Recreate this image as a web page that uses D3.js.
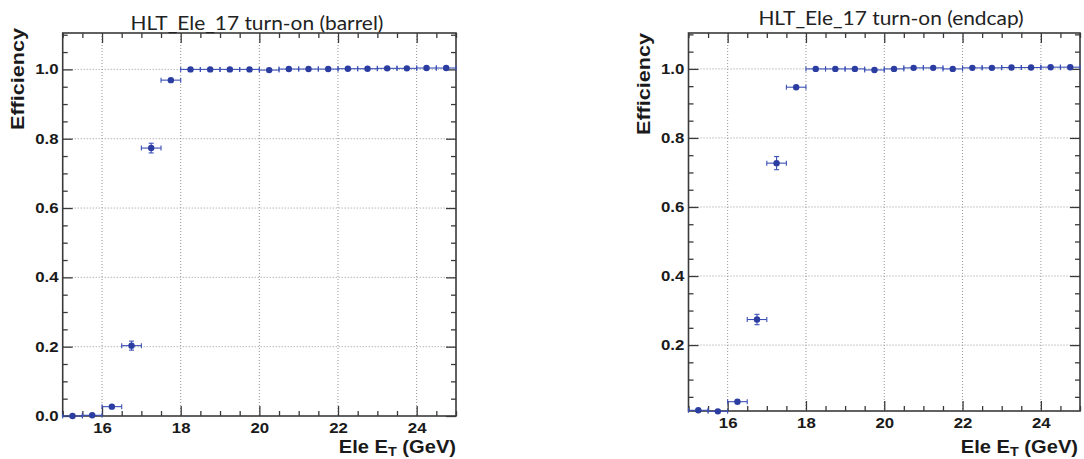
<!DOCTYPE html>
<html><head><meta charset="utf-8">
<script src="https://cdn.jsdelivr.net/npm/d3@7"></script>
<style>
html,body{margin:0;padding:0;background:#fff;}
svg{display:block;}
</style></head><body>
<svg id="chart" width="1084" height="459"></svg>
<script>
// Trigger efficiency vs electron transverse energy, 0.5 GeV bins
const binCenters = [15.25, 15.75, 16.25, 16.75, 17.25, 17.75, 18.25, 18.75, 19.25, 19.75,
                    20.25, 20.75, 21.25, 21.75, 22.25, 22.75, 23.25, 23.75, 24.25, 24.75];
const binHalfWidth = 0.25;

const barrelEff = [0.000, 0.002, 0.027, 0.203, 0.773, 0.969, 1.000, 1.000, 1.000, 1.000,
                   0.998, 1.001, 1.001, 1.001, 1.002, 1.002, 1.003, 1.003, 1.004, 1.004];
const barrelErr = [0.001, 0.002, 0.004, 0.013, 0.014, 0.005, 0.001, 0.001, 0.001, 0.001,
                   0.001, 0.001, 0.001, 0.001, 0.001, 0.001, 0.001, 0.001, 0.001, 0.001];

const endcapEff = [0.011, 0.008, 0.036, 0.274, 0.727, 0.947, 1.000, 1.000, 1.000, 0.997,
                   1.000, 1.003, 1.003, 1.000, 1.003, 1.003, 1.004, 1.004, 1.005, 1.005];
const endcapErr = [0.002, 0.002, 0.006, 0.015, 0.019, 0.006, 0.002, 0.002, 0.002, 0.002,
                   0.002, 0.002, 0.002, 0.002, 0.002, 0.002, 0.002, 0.002, 0.002, 0.002];

const xTickValues = [16, 18, 20, 22, 24];
const yTickValues = [0.0, 0.2, 0.4, 0.6, 0.8, 1.0];
const panelTitles = ["HLT_Ele_17 turn-on (barrel)", "HLT_Ele_17 turn-on (endcap)"];
const xTitle = ["Ele E", "T", " (GeV)"];
const yTitle = "Efficiency";

const svg = d3.select("#chart");
svg.append("rect").attr("width", 1084).attr("height", 459).attr("fill", "#fff");

const panels = [
  { title: panelTitles[0], eff: barrelEff, err: barrelErr,
    left: 62.7, right: 456, top: 33, bottom: 416, yDomain: [0, 1.105],
    titleX: 257, titleY: 29.5, yTitleX: 24, yTitleY: 28, xTitleX: 456, xTitleY: 452.5 },
  { title: panelTitles[1], eff: endcapEff, err: endcapErr,
    left: 688.5, right: 1080, top: 33, bottom: 411, yDomain: [0.009, 1.104],
    titleX: 891, titleY: 24.5, yTitleX: 650, yTitleY: 33, xTitleX: 1078, xTitleY: 452.5 }
];

const frameColor = "#3a3a3a";
const markColor = "#2c3da2";
const barColor = "#3b50b6";
const labelFont = "'Liberation Sans', Arial, Helvetica, sans-serif";
const stretch = 1.2;

function minorValues(lo, hi, step, majors) {
  const out = [];
  const n = Math.round((hi - lo) / step);
  for (let i = 0; i <= n; i++) {
    const v = +(lo + i * step).toFixed(4);
    if (!majors.some(m => Math.abs(m - v) < 1e-6)) out.push(v);
  }
  return out;
}

panels.forEach(p => {
  const x = d3.scaleLinear().domain([15, 25]).range([p.left, p.right]);
  const y = d3.scaleLinear().domain(p.yDomain).range([p.bottom, p.top]);
  const g = svg.append("g");

  const yMajors = yTickValues.filter(v => v >= p.yDomain[0] - 1e-9 && v <= p.yDomain[1]);
  const xMinors = minorValues(15, 25, 0.5, xTickValues);
  const yMinors = minorValues(0, 1.1, 0.05, yTickValues).filter(v => v > p.yDomain[0] && v < p.yDomain[1]);

  // dotted grid at the major ticks
  const grid = g.append("g").attr("stroke", "#8a8a8a").attr("stroke-width", 0.9)
    .attr("stroke-dasharray", "1,2");
  grid.selectAll("line.gx").data(xTickValues).join("line")
    .attr("x1", d => x(d)).attr("x2", d => x(d)).attr("y1", p.top).attr("y2", p.bottom);
  grid.selectAll("line.gy").data(yMajors.filter(v => v > p.yDomain[0] + 1e-6)).join("line")
    .attr("x1", p.left).attr("x2", p.right).attr("y1", d => y(d)).attr("y2", d => y(d));

  // axes with inward ticks on all four sides
  function styleAxis(sel) {
    sel.select(".domain").remove();
    sel.selectAll(".tick line").attr("stroke", frameColor).attr("stroke-width", 1.3);
  }
  const bottomMajor = g.append("g").attr("transform", `translate(0,${p.bottom})`)
    .call(d3.axisBottom(x).tickValues(xTickValues).tickSize(-10).tickPadding(7).tickFormat(d3.format("d")));
  styleAxis(bottomMajor);
  bottomMajor.selectAll("text").attr("font-family", labelFont).attr("font-weight", "bold")
    .attr("font-size", 14).attr("fill", "#1a1a1a").attr("transform", `scale(${stretch},1)`);
  styleAxis(g.append("g").attr("transform", `translate(0,${p.bottom})`)
    .call(d3.axisBottom(x).tickValues(xMinors).tickSize(-5).tickFormat("")));
  styleAxis(g.append("g").attr("transform", `translate(0,${p.top})`)
    .call(d3.axisTop(x).tickValues(xTickValues).tickSize(-10).tickFormat("")));
  styleAxis(g.append("g").attr("transform", `translate(0,${p.top})`)
    .call(d3.axisTop(x).tickValues(xMinors).tickSize(-5).tickFormat("")));

  const leftMajor = g.append("g").attr("transform", `translate(${p.left},0)`)
    .call(d3.axisLeft(y).tickValues(yMajors).tickSize(-10).tickPadding(3.5).tickFormat(d3.format(".1f")));
  styleAxis(leftMajor);
  leftMajor.selectAll("text").attr("font-family", labelFont).attr("font-weight", "bold")
    .attr("font-size", 14).attr("fill", "#1a1a1a").attr("transform", `scale(${stretch},1)`);
  styleAxis(g.append("g").attr("transform", `translate(${p.left},0)`)
    .call(d3.axisLeft(y).tickValues(yMinors).tickSize(-5).tickFormat("")));
  styleAxis(g.append("g").attr("transform", `translate(${p.right},0)`)
    .call(d3.axisRight(y).tickValues(yMajors).tickSize(-10).tickFormat("")));
  styleAxis(g.append("g").attr("transform", `translate(${p.right},0)`)
    .call(d3.axisRight(y).tickValues(yMinors).tickSize(-5).tickFormat("")));

  // frame
  g.append("rect").attr("x", p.left).attr("y", p.top)
    .attr("width", p.right - p.left).attr("height", p.bottom - p.top)
    .attr("fill", "none").attr("stroke", frameColor).attr("stroke-width", 1.6);

  // data points with bin-width and statistical error bars
  const pts = binCenters.map((c, i) => ({ c, v: p.eff[i], e: p.err[i] }));
  const cap = 2.5;
  const bars = g.append("g").attr("stroke", barColor).attr("stroke-width", 1.1);
  pts.forEach(d => {
    const cx = x(d.c), cy = y(d.v);
    const xl = x(d.c - binHalfWidth), xr = x(d.c + binHalfWidth);
    bars.append("line").attr("x1", xl).attr("x2", xr).attr("y1", cy).attr("y2", cy);
    bars.append("line").attr("x1", xl).attr("x2", xl).attr("y1", cy - cap).attr("y2", cy + cap);
    bars.append("line").attr("x1", xr).attr("x2", xr).attr("y1", cy - cap).attr("y2", cy + cap);
    const yt = y(d.v + d.e), yb = y(d.v - d.e);
    if (yb - yt > 7) {
      bars.append("line").attr("x1", cx).attr("x2", cx).attr("y1", yt).attr("y2", yb);
      bars.append("line").attr("x1", cx - cap).attr("x2", cx + cap).attr("y1", yt).attr("y2", yt);
      bars.append("line").attr("x1", cx - cap).attr("x2", cx + cap).attr("y1", yb).attr("y2", yb);
    }
  });
  g.append("g").selectAll("circle").data(pts).join("circle")
    .attr("cx", d => x(d.c)).attr("cy", d => y(d.v)).attr("r", 3.2).attr("fill", markColor);

  // titles
  svg.append("text")
    .attr("transform", `translate(${p.titleX},${p.titleY}) scale(1.1,1)`)
    .attr("text-anchor", "middle")
    .attr("font-family", "Lato, 'Open Sans', sans-serif").attr("font-size", 19).attr("fill", "#222")
    .text(p.title);

  const xt = svg.append("text")
    .attr("transform", `translate(${p.xTitleX},${p.xTitleY}) scale(1.15,1)`)
    .attr("text-anchor", "end").attr("font-family", labelFont).attr("font-weight", "bold")
    .attr("font-size", 17.5).attr("fill", "#1a1a1a");
  xt.append("tspan").text(xTitle[0]);
  xt.append("tspan").attr("font-size", 12.5).attr("dy", 3.5).text(xTitle[1]);
  xt.append("tspan").attr("dy", -3.5).text(xTitle[2]);

  svg.append("text")
    .attr("transform", `translate(${p.yTitleX},${p.yTitleY}) rotate(-90) scale(1.2,1)`)
    .attr("text-anchor", "end").attr("font-family", labelFont).attr("font-weight", "bold")
    .attr("font-size", 18).attr("fill", "#1a1a1a").text(yTitle);
});
</script>
</body></html>
